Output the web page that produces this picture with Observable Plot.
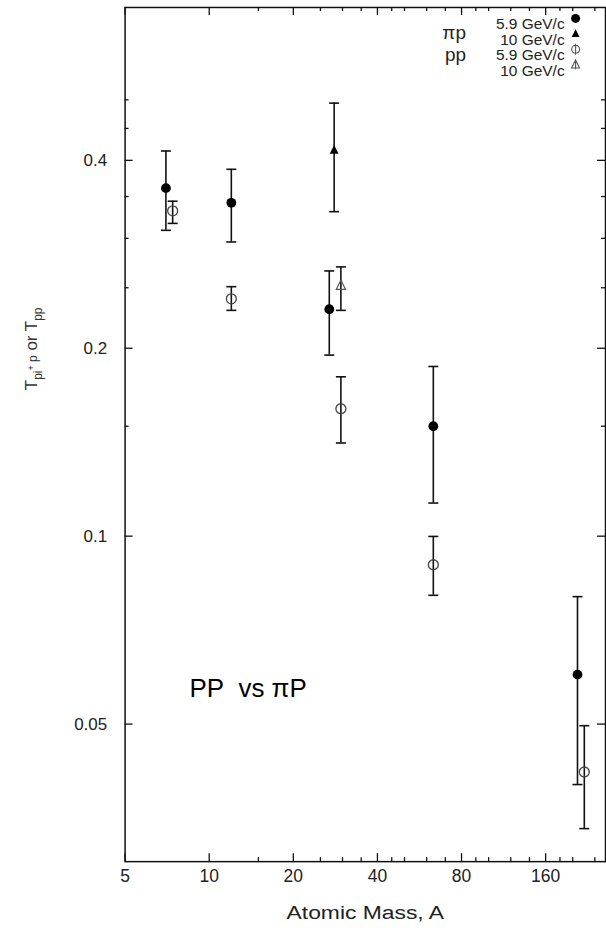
<!DOCTYPE html>
<html><head><meta charset="utf-8">
<script src="https://cdn.jsdelivr.net/npm/d3@7"></script>
<script src="https://cdn.jsdelivr.net/npm/@observablehq/plot@0.6"></script>
<style>
html,body{margin:0;padding:0;background:#fff;overflow:hidden;width:606px;height:937px}
#chart svg{font-family:"Liberation Sans",Arial,sans-serif;overflow:visible}
</style></head><body><div id="chart"></div>
<script>
// ---- data ----
// pi p, 5.9 GeV/c (filled circles)
const piP59A  = [7, 12, 26.9, 63.4, 208];
const piP59T  = [0.361, 0.342, 0.231, 0.150, 0.060];
const piP59Lo = [0.309, 0.296, 0.195, 0.113, 0.040];
const piP59Hi = [0.414, 0.387, 0.266, 0.187, 0.080];
// pi p, 10 GeV/c (filled triangle)
const piP10A  = [28];
const piP10T  = [0.415];
const piP10Lo = [0.331];
const piP10Hi = [0.494];
// pp, 5.9 GeV/c (open circles)
const pp59A  = [7.4, 12, 29.6, 63.4, 220];
const pp59T  = [0.332, 0.240, 0.160, 0.090, 0.0419];
const pp59Lo = [0.317, 0.230, 0.141, 0.0804, 0.034];
const pp59Hi = [0.344, 0.251, 0.180, 0.0999, 0.0497];
// pp, 10 GeV/c (open triangle)
const pp10A  = [29.6];
const pp10T  = [0.252];
const pp10Lo = [0.230];
const pp10Hi = [0.270];

const xTicks = [5, 10, 20, 40, 80, 160];
const xMinor = [15, 25, 30, 35, 45, 50, 60, 70, 90, 100, 120, 140, 180, 200, 240];
const yTicks = [0.05, 0.1, 0.2, 0.4];
const yMinor = [0.15, 0.25, 0.3, 0.35, 0.45, 0.5];

const legendGroups = ["\u03c0p", "pp"];
const legendLabels = ["5.9 GeV/c", "10 GeV/c", "5.9 GeV/c", "10 GeV/c"];
const xTitle = "Atomic Mass, A";
const annotation = "PP\u00a0 vs \u03c0P";

// ---- layout ----
const W = 608, H = 937, mL = 125, mR = 1, mT = 7, mB = 73;
const fw = W - mL - mR, fh = H - mT - mB;

const rows = (A, T, lo, hi) => A.map((a, i) => ({A: a, T: T[i], lo: lo[i], hi: hi[i]}));
const sPiP59 = rows(piP59A, piP59T, piP59Lo, piP59Hi);
const sPiP10 = rows(piP10A, piP10T, piP10Lo, piP10Hi);
const sPP59 = rows(pp59A, pp59T, pp59Lo, pp59Hi);
const sPP10 = rows(pp10A, pp10T, pp10Lo, pp10Hi);
const all = [...sPiP59, ...sPiP10, ...sPP59, ...sPP10];

const capSym = {draw(ctx, size) { const r = Math.sqrt(size / Math.PI); ctx.moveTo(-r, 0); ctx.lineTo(r, 0); }};
const circBar = {draw(ctx, size) { const r = Math.sqrt(size / Math.PI); ctx.moveTo(r, 0); ctx.arc(0, 0, r, 0, 2 * Math.PI); ctx.moveTo(0, -r - 1.5); ctx.lineTo(0, r + 1.5); }};
const triBar = {draw(ctx, size) { const r = Math.sqrt(size / Math.PI); const h = r * 1.1; ctx.moveTo(0, -h * 1.2); ctx.lineTo(h, h * 0.8); ctx.lineTo(-h, h * 0.8); ctx.closePath(); ctx.moveTo(0, -h * 1.4); ctx.lineTo(0, h * 1.1); }};
const triSym = {draw(ctx, size) { const r = Math.sqrt(size / Math.PI); const h = r * 1.1; ctx.moveTo(0, -h * 1.2); ctx.lineTo(h, h * 0.8); ctx.lineTo(-h, h * 0.8); ctx.closePath(); }};

const ink = "#111";
const marks = [
  Plot.frame({stroke: ink, strokeWidth: 1.5}),
  // inward ticks
  Plot.tickX(xTicks, {x: d => d, insetTop: fh - 8, stroke: ink, strokeWidth: 1.3}),
  Plot.tickX(xTicks, {x: d => d, insetBottom: fh - 8, stroke: ink, strokeWidth: 1.3}),
  Plot.tickX(xMinor, {x: d => d, insetTop: fh - 4, stroke: ink, strokeWidth: 1.3}),
  Plot.tickX(xMinor, {x: d => d, insetBottom: fh - 4, stroke: ink, strokeWidth: 1.3}),
  Plot.tickY(yTicks, {y: d => d, insetRight: fw - 8, stroke: ink, strokeWidth: 1.3}),
  Plot.tickY(yTicks, {y: d => d, insetLeft: fw - 8, stroke: ink, strokeWidth: 1.3}),
  Plot.tickY(yMinor, {y: d => d, insetRight: fw - 4, stroke: ink, strokeWidth: 1.3}),
  Plot.tickY(yMinor, {y: d => d, insetLeft: fw - 4, stroke: ink, strokeWidth: 1.3}),
  // tick labels
  Plot.text(xTicks, {x: d => d, frameAnchor: "bottom", dy: 20, text: d => `${d}`, fontSize: 17.5, fill: "#222"}),
  Plot.text(yTicks, {y: d => d, frameAnchor: "left", dx: -18, textAnchor: "end", text: d => `${d}`, fontSize: 17, fill: "#222"}),
  Plot.text([xTitle], {frameAnchor: "bottom", dy: 58, fontSize: 18, fill: "#222", text: d => d, className: "xtitle"}),
  // error bars
  Plot.ruleX(all, {x: "A", y1: "lo", y2: "hi", stroke: ink, strokeWidth: 1.6}),
  Plot.dot(all, {x: "A", y: "lo", symbol: capSym, r: 5, stroke: ink, strokeWidth: 1.6, fill: "none"}),
  Plot.dot(all, {x: "A", y: "hi", symbol: capSym, r: 5, stroke: ink, strokeWidth: 1.6, fill: "none"}),
  // points
  Plot.dot(sPiP59, {x: "A", y: "T", r: 4.9, fill: "#000", stroke: "none"}),
  Plot.dot(sPiP10, {x: "A", y: "T", symbol: triSym, r: 4, fill: "#000", stroke: "none"}),
  Plot.dot(sPP59, {x: "A", y: "T", r: 5, fill: "none", stroke: "#444", strokeWidth: 1.3}),
  Plot.dot(sPP10, {x: "A", y: "T", symbol: triSym, r: 4.2, fill: "none", stroke: "#555", strokeWidth: 1.2}),
  // annotation
  Plot.text([annotation], {x: 8.5, y: 0.057, text: d => d, textAnchor: "start", fontSize: 26, fill: "#000"})
];

// legend
const rowDy = [11, 26.5, 42, 57.5];
const legSyms = [
  {symbol: "circle", r: 4.5, fill: "#000", stroke: "none"},
  {symbol: triSym, r: 3.6, fill: "#000", stroke: "none"},
  {symbol: circBar, r: 4, fill: "none", stroke: "#555", strokeWidth: 1.1},
  {symbol: triBar, r: 3.6, fill: "none", stroke: "#555", strokeWidth: 1.1}
];
legendLabels.forEach((lab, i) => {
  marks.push(Plot.text([lab], {frameAnchor: "top-right", dx: -41, dy: rowDy[i], text: d => d, textAnchor: "end", fontSize: 15.5, fill: "#222"}));
  marks.push(Plot.dot([0], {frameAnchor: "top-right", dx: -30, dy: rowDy[i], ...legSyms[i]}));
});
const groupDy = [18, 40];
legendGroups.forEach((g, i) => {
  marks.push(Plot.text([g], {frameAnchor: "top-right", dx: -140, dy: groupDy[i], text: d => d, textAnchor: "end", fontSize: 19, fill: "#222"}));
});

const chart = Plot.plot({
  width: W, height: H,
  marginLeft: mL, marginRight: mR, marginTop: mT, marginBottom: mB,
  x: {type: "log", domain: [5, 262], axis: null},
  y: {type: "log", domain: [0.0301, 0.703], axis: null},
  marks
});
document.getElementById("chart").appendChild(chart);

const svg = d3.select(chart);
// stretch the x title like the reference
svg.selectAll(".xtitle text").attr("textLength", 158).attr("lengthAdjust", "spacingAndGlyphs");

// y-axis title with subscripts
const t = svg.append("text")
  .attr("transform", "translate(37,350) rotate(-90)")
  .attr("text-anchor", "middle")
  .attr("font-size", 17)
  .attr("fill", "#333");
t.append("tspan").text("T");
t.append("tspan").attr("font-size", 12).attr("dy", 5).text("pi");
t.append("tspan").attr("font-size", 9).attr("dy", -8).text("+");
t.append("tspan").attr("font-size", 12).attr("dy", 3).text(" p");
t.append("tspan").attr("font-size", 17).attr("dy", 0).text(" or T");
t.append("tspan").attr("font-size", 12).attr("dy", 5).text("pp");
</script></body></html>
